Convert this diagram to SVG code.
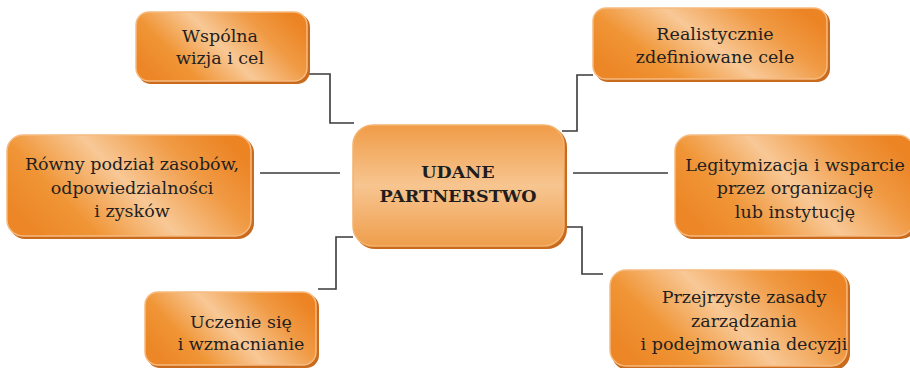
<svg xmlns="http://www.w3.org/2000/svg" width="910" height="368" viewBox="0 0 910 368">
  <defs>
    <!-- diagonal glossy band used by the outer boxes -->
    <linearGradient id="gloss" x1="0" y1="0.7" x2="1" y2="0.3">
      <stop offset="0" stop-color="#ec8626"/>
      <stop offset="0.22" stop-color="#f09536"/>
      <stop offset="0.5" stop-color="#f8c896"/>
      <stop offset="0.78" stop-color="#f09a44"/>
      <stop offset="1" stop-color="#ec8424"/>
    </linearGradient>
    <!-- vertical soft band for the central box -->
    <linearGradient id="core" x1="0" y1="0" x2="0" y2="1">
      <stop offset="0" stop-color="#f09c48"/>
      <stop offset="0.5" stop-color="#f7c590"/>
      <stop offset="1" stop-color="#ef9e4c"/>
    </linearGradient>
  </defs>
  <style>
    .shadow { fill: #c96a1c; }
    .box { fill: url(#gloss); stroke: #f6bb80; stroke-width: 1.5; }
    .hub { fill: url(#core); stroke: #f3b36e; stroke-width: 1.5; }
    .label { font-family: 'DejaVu Serif', 'Liberation Serif', serif; font-size: 17.5px; fill: #231f20; text-anchor: middle; }
    .title { font-family: 'DejaVu Serif', 'Liberation Serif', serif; font-size: 17.5px; font-weight: bold; fill: #1f1d1d; text-anchor: middle; }
    .link { fill: none; stroke: #3a3a3a; stroke-width: 1.6; }
  </style>

  <rect width="910" height="368" fill="#ffffff"/>

  <g id="connectors">
    <polyline class="link" points="308,74 330,74 330,123 354,123"/>
    <polyline class="link" points="562,131 577,131 577,75 593,75"/>
    <line class="link" x1="260" y1="173" x2="340" y2="173"/>
    <line class="link" x1="573" y1="173" x2="668" y2="173"/>
    <polyline class="link" points="353,237 336,237 336,289 318,289"/>
    <polyline class="link" points="562,227 582,227 582,274 603,274"/>
  </g>

  <g id="hub">
    <rect class="shadow" x="355" y="127" width="212" height="122" rx="20"/>
    <rect class="hub" x="353" y="125" width="211" height="121" rx="20"/>
    <text class="title" x="458" y="178">UDANE</text>
    <text class="title" x="458" y="202">PARTNERSTWO</text>
  </g>

  <g id="vision">
    <rect class="shadow" x="138" y="14" width="172" height="70" rx="13"/>
    <rect class="box" x="136" y="12" width="171" height="69" rx="13"/>
    <text class="label" x="220" y="42">Wspólna</text>
    <text class="label" x="220" y="64">wizja i cel</text>
  </g>

  <g id="goals">
    <rect class="shadow" x="595" y="10" width="235" height="72" rx="13"/>
    <rect class="box" x="593" y="8" width="234" height="71" rx="13"/>
    <text class="label" x="715" y="40">Realistycznie</text>
    <text class="label" x="715" y="63">zdefiniowane cele</text>
  </g>

  <g id="sharing">
    <rect class="shadow" x="9" y="137" width="245" height="102" rx="16"/>
    <rect class="box" x="7" y="135" width="244" height="101" rx="16"/>
    <text class="label" x="132" y="170">Równy podział zasobów,</text>
    <text class="label" x="132" y="194">odpowiedzialności</text>
    <text class="label" x="132" y="217">i zysków</text>
  </g>

  <g id="legitimacy">
    <rect class="shadow" x="677" y="137" width="240" height="102" rx="16"/>
    <rect class="box" x="675" y="135" width="239" height="101" rx="16"/>
    <text class="label" x="795" y="171">Legitymizacja i wsparcie</text>
    <text class="label" x="795" y="194">przez organizację</text>
    <text class="label" x="795" y="218">lub instytucję</text>
  </g>

  <g id="learning">
    <rect class="shadow" x="147" y="294" width="172" height="74" rx="13"/>
    <rect class="box" x="145" y="292" width="171" height="73" rx="13"/>
    <text class="label" x="241" y="328">Uczenie się</text>
    <text class="label" x="241" y="350">i wzmacnianie</text>
  </g>

  <g id="governance">
    <rect class="shadow" x="612" y="272" width="238" height="98" rx="16"/>
    <rect class="box" x="610" y="270" width="237" height="96" rx="16"/>
    <text class="label" x="744" y="303">Przejrzyste zasady</text>
    <text class="label" x="744" y="327">zarządzania</text>
    <text class="label" x="744" y="350">i podejmowania decyzji</text>
  </g>
</svg>
